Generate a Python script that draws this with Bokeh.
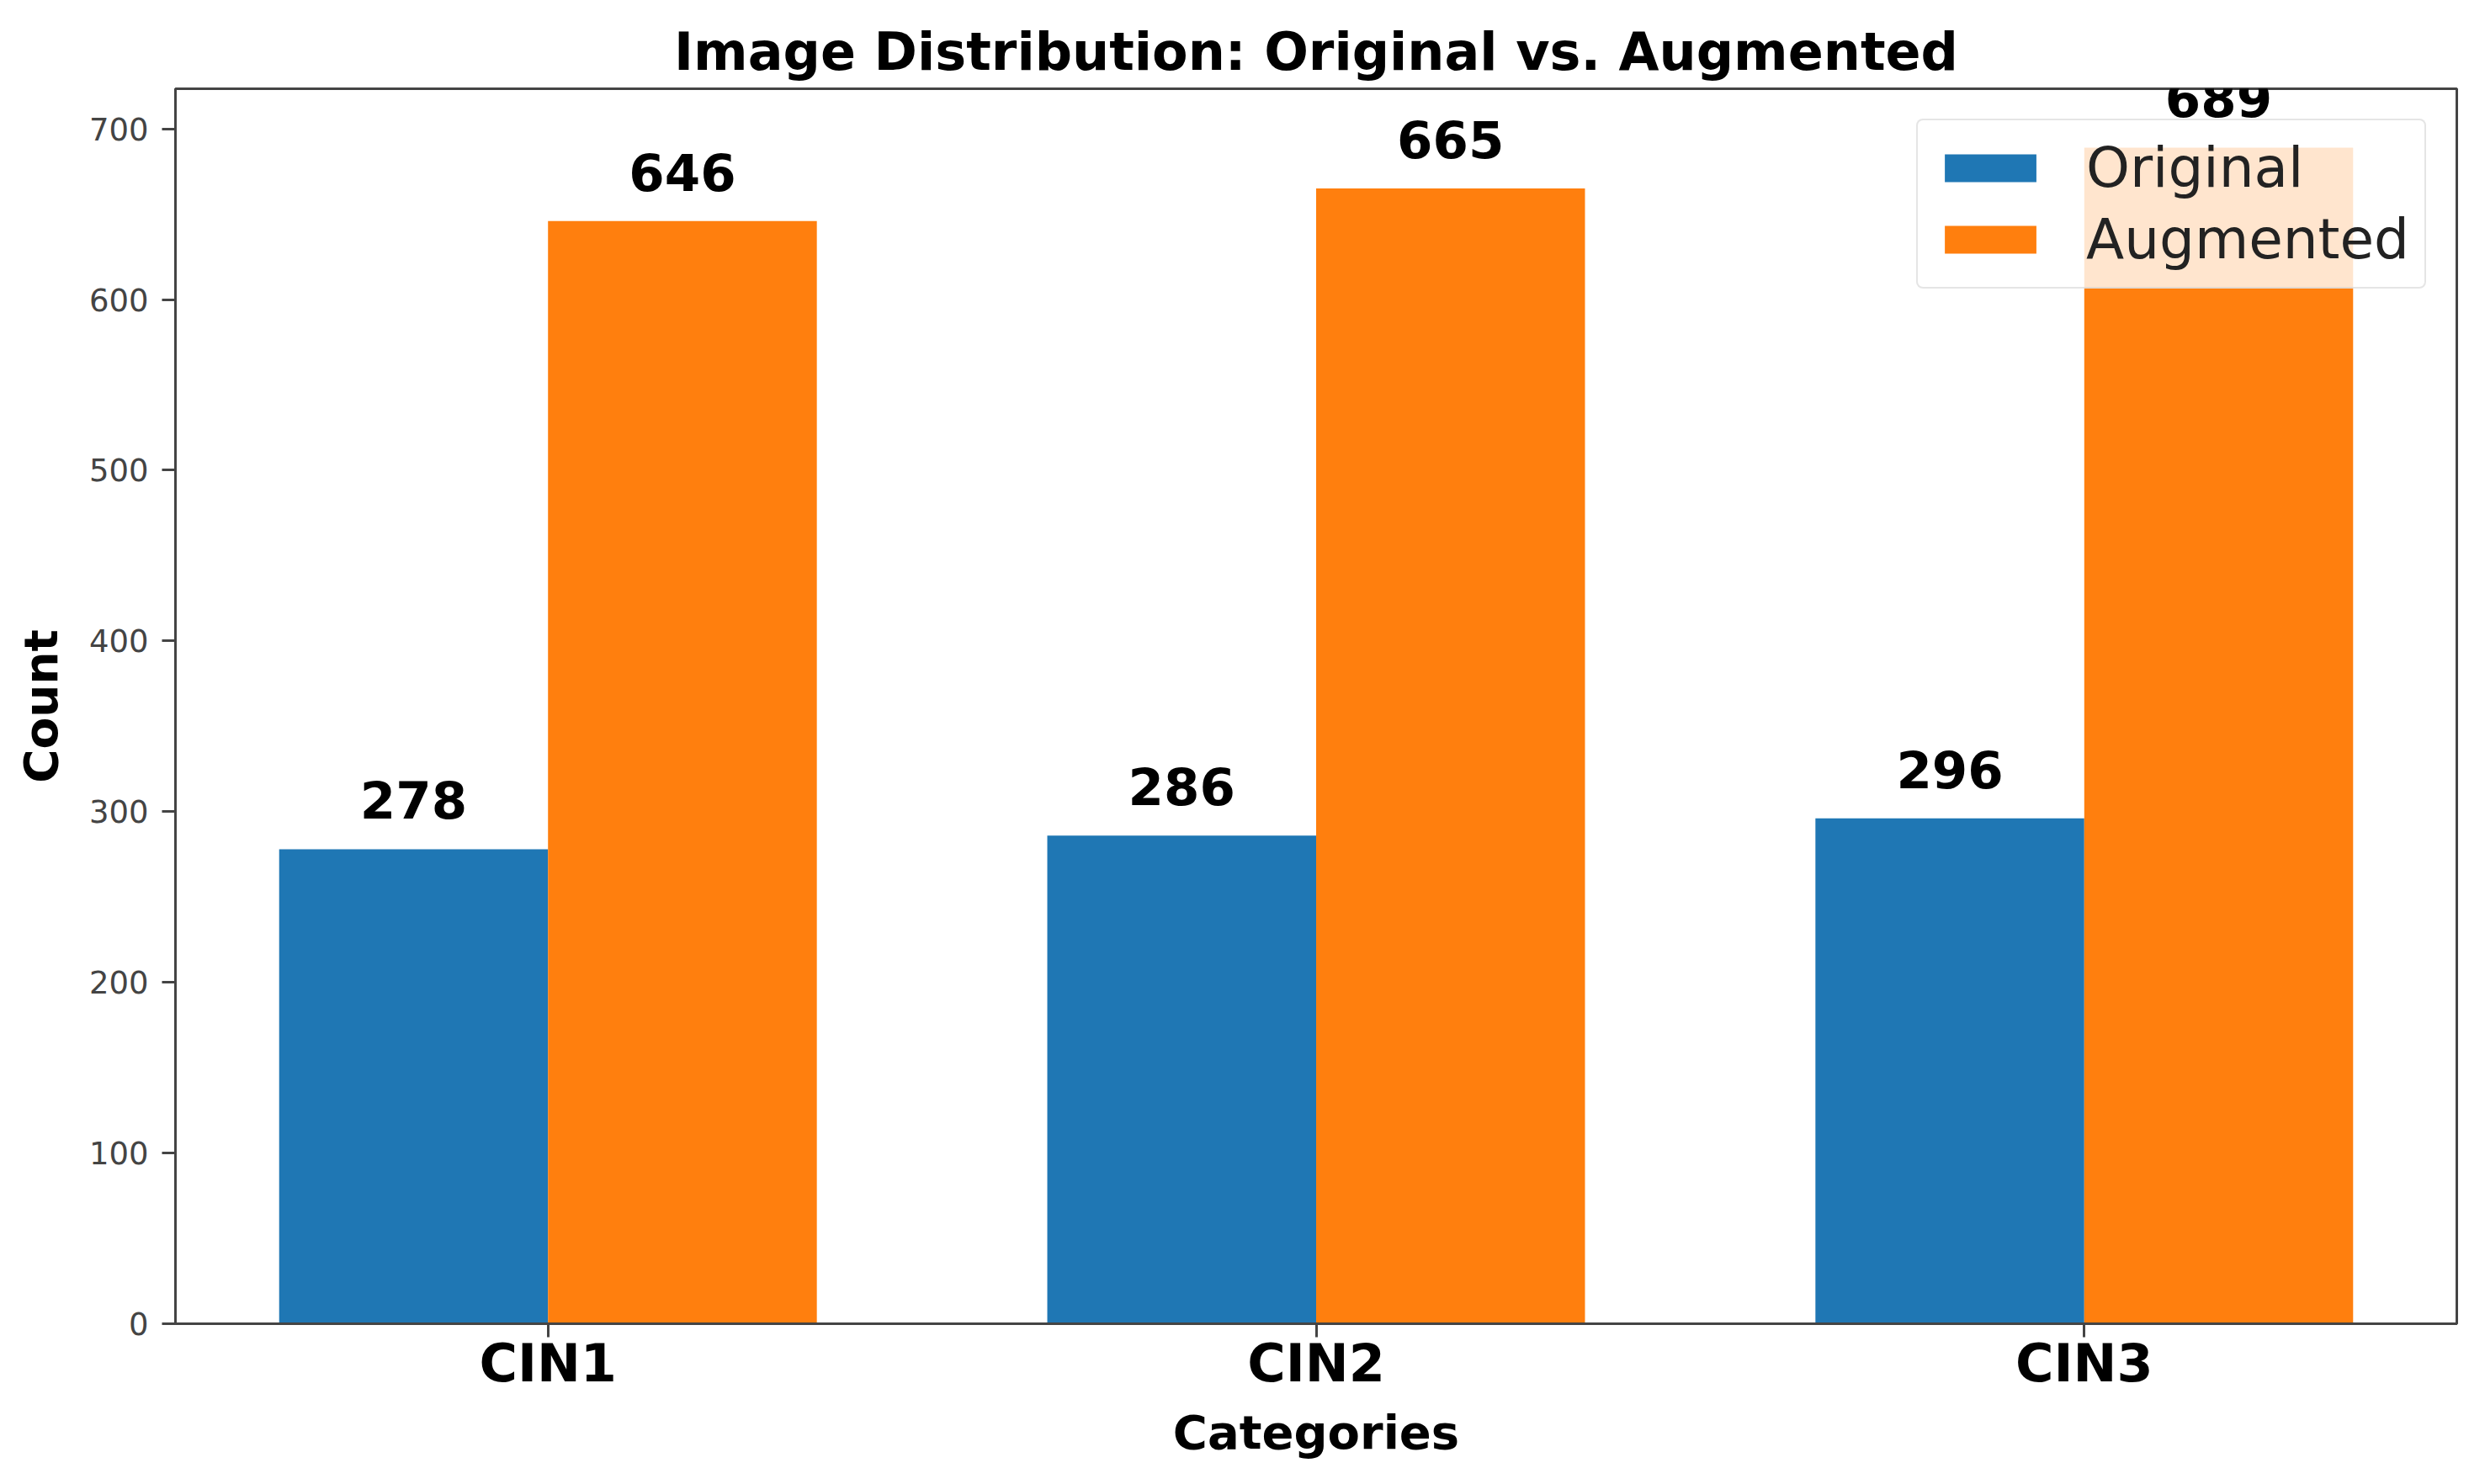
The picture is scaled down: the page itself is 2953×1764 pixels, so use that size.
from bokeh.plotting import figure
from bokeh.models import ColumnDataSource, Range1d, FixedTicker, LabelSet, Legend, LegendItem
from bokeh.transform import dodge
from bokeh.core.properties import value
from bokeh.embed import file_html
from bokeh.resources import INLINE

categories = ["CIN1", "CIN2", "CIN3"]
original = [278, 286, 296]
augmented = [646, 665, 689]
y_ticks = [0, 100, 200, 300, 400, 500, 600, 700]

xs = list(range(len(categories)))
src = ColumnDataSource(dict(
    x=xs,
    original=original,
    augmented=augmented,
    original_txt=[str(v) for v in original],
    augmented_txt=[str(v) for v in augmented],
))

FONT = "DejaVu Sans"
AX = "#444444"

p = figure(width=2930, height=1748, output_backend="svg", toolbar_location=None,
           x_range=Range1d(-0.485, len(categories) - 1 + 0.485),
           y_range=Range1d(0, max(augmented) * 1.05),
           min_border_left=208, min_border_right=11, min_border_top=105, min_border_bottom=175,
           title="Image Distribution: Original vs. Augmented")
p.background_fill_color = "white"
p.border_fill_color = "white"
p.xgrid.visible = False
p.ygrid.visible = False
p.outline_line_color = AX
p.outline_line_width = 3

p.title.text_font = FONT
p.title.text_font_size = "62px"
p.title.text_font_style = "bold"
p.title.align = "center"
p.title.text_color = "black"
p.title.standoff = 16

r1 = p.vbar(x=dodge("x", -0.175, range=p.x_range), top="original", width=0.35, bottom=0,
            source=src, fill_color="#1f77b4", line_color=None)
r2 = p.vbar(x=dodge("x", 0.175, range=p.x_range), top="augmented", width=0.35, bottom=0,
            source=src, fill_color="#ff7f0e", line_color=None)

for col, txt, dx in (("original", "original_txt", -0.175), ("augmented", "augmented_txt", 0.175)):
    ls = LabelSet(x=dodge("x", dx, range=p.x_range), y=col, text=txt, source=src,
                  text_align="center", text_baseline="alphabetic", y_offset=36,
                  text_font=value(FONT), text_font_size=value("61px"),
                  text_font_style="bold", text_color="black")
    p.add_layout(ls)

# axes
p.xaxis.ticker = FixedTicker(ticks=xs)
p.xaxis.major_label_overrides = {i: c for i, c in zip(xs, categories)}
p.xaxis.major_label_text_font = FONT
p.xaxis.major_label_text_font_size = "62px"
p.xaxis.major_label_text_font_style = "bold"
p.xaxis.major_label_text_color = "black"
p.xaxis.major_label_standoff = -6
p.xaxis.axis_label = "Categories"
p.xaxis.axis_label_text_font = FONT
p.xaxis.axis_label_text_font_size = "56px"
p.xaxis.axis_label_text_font_style = "bold"
p.xaxis.axis_label_text_color = "black"
p.xaxis.axis_label_standoff = 10

p.yaxis.ticker = FixedTicker(ticks=y_ticks)
p.yaxis.major_label_text_font = FONT
p.yaxis.major_label_text_font_size = "37px"
p.yaxis.major_label_text_color = "#444444"
p.yaxis.major_label_standoff = 16
p.yaxis.axis_label = "Count"
p.yaxis.axis_label_text_font = FONT
p.yaxis.axis_label_text_font_size = "55px"
p.yaxis.axis_label_text_font_style = "bold"
p.yaxis.axis_label_text_color = "black"
p.yaxis.axis_label_standoff = 22

for ax in (p.xaxis, p.yaxis):
    ax.axis_line_color = AX
    ax.axis_line_width = 3
    ax.major_tick_line_color = AX
    ax.major_tick_line_width = 3
    ax.major_tick_out = 16
    ax.major_tick_in = 0
    ax.minor_tick_line_color = None

legend = Legend(items=[LegendItem(label="Original", renderers=[r1]),
                       LegendItem(label="Augmented", renderers=[r2])],
                location="top_right")
legend.label_text_font = FONT
legend.label_text_font_size = "66px"
legend.label_text_color = "#222222"
legend.glyph_width = 136
legend.glyph_height = 41
legend.label_standoff = 46
legend.spacing = 8
legend.padding = 18
legend.margin = 36
legend.border_line_color = "#cccccc"
legend.border_line_width = 2
legend.border_radius = 8
legend.background_fill_color = "white"
legend.background_fill_alpha = 0.8
p.add_layout(legend)

open("out.html", "w").write(file_html(p, INLINE))
